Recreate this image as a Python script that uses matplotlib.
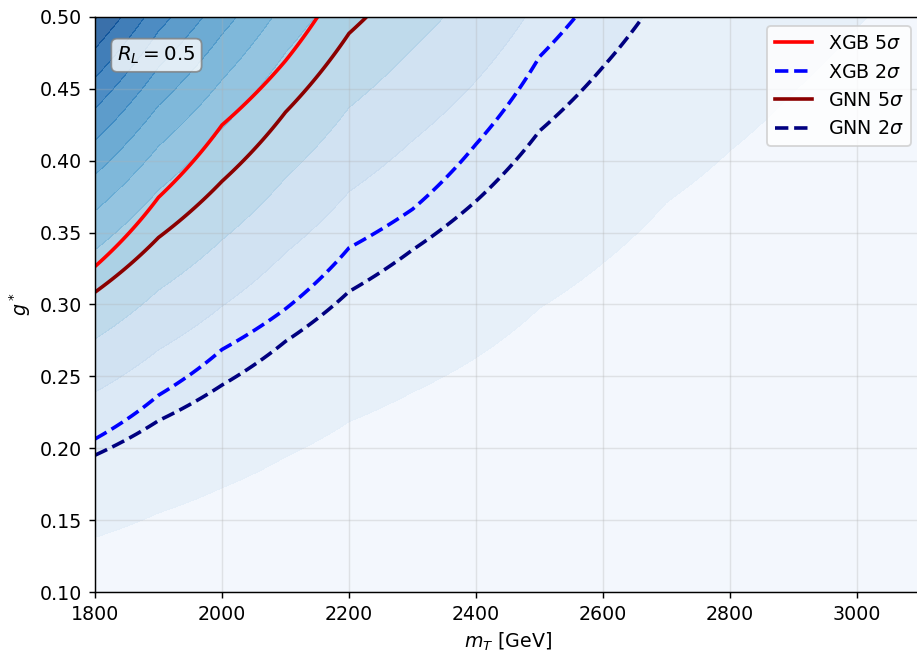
import numpy as np
import matplotlib
matplotlib.use("Agg")
import matplotlib.pyplot as plt
from matplotlib.lines import Line2D

# mass points of the scan [GeV]
mT = [1800, 1900, 2000, 2100, 2200, 2300, 2400, 2500, 2600, 2700, 2800, 2900, 3000, 3100]
# coupling g* at which each classifier reaches 1 sigma (significance ~ g*^2)
g1_gnn = [0.138, 0.155, 0.1725, 0.194, 0.2185, 0.239, 0.263, 0.2975, 0.329, 0.371, 0.407, 0.448, 0.493, 0.54]
g1_xgb = [0.146, 0.1675, 0.190, 0.210, 0.240, 0.259, 0.291, 0.334, 0.371, 0.41, 0.45, 0.49, 0.53, 0.57]

fill_levels = list(range(0, 15))
RL = 0.5

plt.rcParams["font.size"] = 10.5


def main():
    g = np.linspace(0.1, 0.5, 161)
    M, G = np.meshgrid(mT, g)
    Z_gnn = (G / np.array(g1_gnn)) ** 2
    Z_xgb = (G / np.array(g1_xgb)) ** 2

    fig = plt.figure(figsize=(917 / 130, 656 / 130), dpi=130)
    ax = fig.add_axes([95 / 917, 64 / 656, 825.5 / 917, 575 / 656])

    ax.contourf(M, G, Z_gnn, levels=fill_levels, cmap="Blues", alpha=0.8)
    ax.contour(M, G, Z_xgb, levels=[5], colors="red", linewidths=2)
    ax.contour(M, G, Z_xgb, levels=[2], colors="blue", linewidths=2, linestyles="--")
    ax.contour(M, G, Z_gnn, levels=[5], colors="darkred", linewidths=2)
    ax.contour(M, G, Z_gnn, levels=[2], colors="navy", linewidths=2, linestyles="--")

    handles = [Line2D([], [], color="red", lw=2),
               Line2D([], [], color="blue", lw=2, ls="--"),
               Line2D([], [], color="darkred", lw=2),
               Line2D([], [], color="navy", lw=2, ls="--")]
    labels = [r"XGB 5$\sigma$", r"XGB 2$\sigma$", r"GNN 5$\sigma$", r"GNN 2$\sigma$"]
    ax.legend(handles, labels, loc="upper right")

    ax.text(0.027, 0.952, r"$R_L = %.1f$" % RL, transform=ax.transAxes, va="top",
            fontsize=11, bbox=dict(boxstyle="round", facecolor="white",
                                   edgecolor="gray", alpha=0.8))

    ax.set_xlim(1800, 3100)
    ax.set_ylim(0.1, 0.5)
    ax.set_xlabel(r"$m_T$ [GeV]")
    ax.set_ylabel(r"$g^*$")
    ax.grid(True, alpha=0.3)

    fig.savefig("out.png", dpi=130)


if __name__ == "__main__":
    main()
